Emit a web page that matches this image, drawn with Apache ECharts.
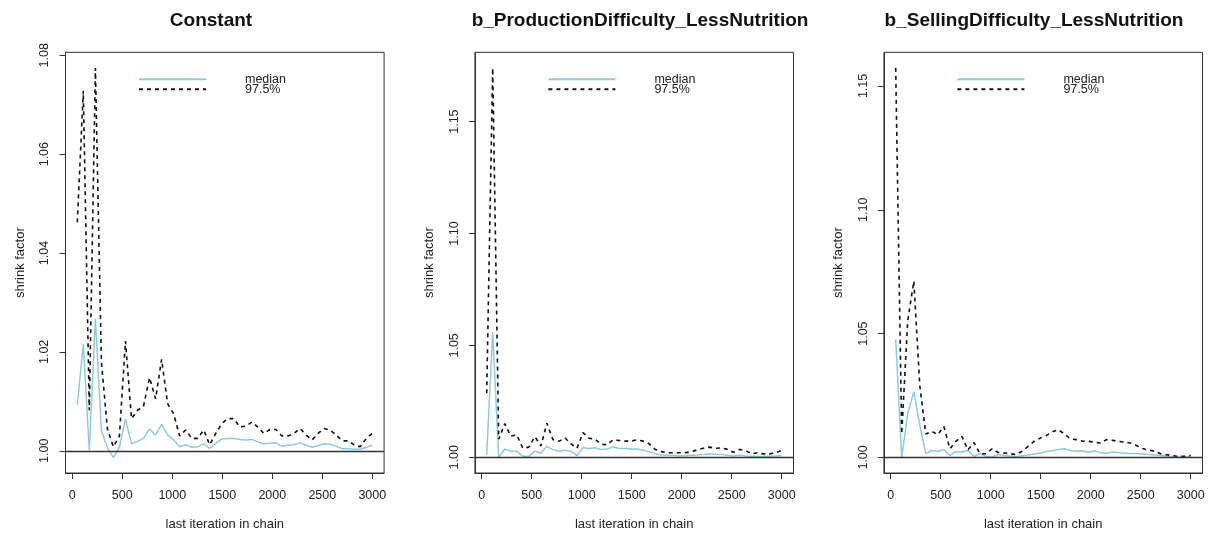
<!DOCTYPE html>
<html><head><meta charset="utf-8">
<script src="https://cdn.jsdelivr.net/npm/echarts@6/dist/echarts.min.js"></script>
<style>html,body{margin:0;padding:0;background:#fff}#c{width:1211px;height:536px}</style>
</head><body><div id="c"></div>
<script>
// ---- data ----
const iterations = [50,110,170,231,291,351,411,471,532,592,652,712,772,833,893,953,1013,1073,1134,1194,1254,1314,1374,1435,1495,1555,1615,1675,1736,1796,1856,1916,1976,2037,2097,2157,2217,2277,2338,2398,2458,2518,2578,2639,2699,2759,2819,2879,2940,3000];

const panelTitles = ['Constant', 'b_ProductionDifficulty_LessNutrition', 'b_SellingDifficulty_LessNutrition'];
const seriesNames = ['median', '97.5%'];

const constantMedian = [1.0093,1.0216,1.0000,1.0267,1.0041,1.0006,0.9986,1.0007,1.0064,1.0014,
  1.0019,1.0025,1.0044,1.0032,1.0054,1.0032,1.0022,1.0008,1.0012,1.0007,
  1.0008,1.0014,1.0005,1.0015,1.0024,1.0025,1.0025,1.0023,1.0022,1.0023,
  1.0018,1.0014,1.0015,1.0016,1.0009,1.0011,1.0012,1.0016,1.0011,1.0007,
  1.0010,1.0014,1.0013,1.0009,1.0004,1.0004,1.0003,1.0003,1.0007,1.0011];
const constantUpper = [1.0462,1.0728,1.0082,1.0774,1.0180,1.0044,1.0008,1.0030,1.0222,1.0065,
  1.0082,1.0090,1.0148,1.0105,1.0185,1.0095,1.0075,1.0030,1.0042,1.0025,
  1.0025,1.0042,1.0012,1.0035,1.0055,1.0065,1.0065,1.0048,1.0050,1.0058,
  1.0048,1.0035,1.0043,1.0043,1.0030,1.0030,1.0035,1.0045,1.0032,1.0022,
  1.0035,1.0045,1.0042,1.0032,1.0020,1.0020,1.0012,1.0008,1.0025,1.0035];

const productionMedian = [1.0010,1.0560,1.0000,1.0037,1.0027,1.0027,1.0004,1.0004,1.0027,1.0019,
  1.0049,1.0034,1.0027,1.0031,1.0027,1.0007,1.0042,1.0039,1.0042,1.0034,
  1.0037,1.0046,1.0039,1.0039,1.0037,1.0037,1.0031,1.0024,1.0016,1.0010,
  1.0009,1.0009,1.0007,1.0007,1.0009,1.0010,1.0012,1.0015,1.0013,1.0012,
  1.0009,1.0006,1.0009,1.0006,1.0004,1.0004,1.0004,1.0004,1.0006,1.0007];
const productionUpper = [1.0286,1.1740,1.0080,1.0150,1.0094,1.0100,1.0040,1.0045,1.0092,1.0050,
  1.0152,1.0079,1.0071,1.0086,1.0060,1.0040,1.0110,1.0085,1.0080,1.0058,
  1.0055,1.0078,1.0075,1.0072,1.0072,1.0078,1.0072,1.0060,1.0035,1.0025,
  1.0020,1.0020,1.0020,1.0020,1.0025,1.0033,1.0040,1.0045,1.0040,1.0042,
  1.0035,1.0022,1.0035,1.0030,1.0015,1.0020,1.0015,1.0015,1.0020,1.0030];

const sellingMedian = [1.0476,1.0000,1.0176,1.0265,1.0130,1.0015,1.0028,1.0024,1.0032,1.0008,
  1.0024,1.0022,1.0028,1.0005,1.0015,1.0004,1.0001,1.0012,1.0008,1.0006,
  1.0004,1.0007,1.0010,1.0014,1.0018,1.0024,1.0027,1.0032,1.0035,1.0028,
  1.0025,1.0026,1.0021,1.0026,1.0020,1.0017,1.0022,1.0020,1.0018,1.0016,
  1.0016,1.0014,1.0012,1.0010,1.0008,1.0006,1.0003,1.0002,1.0001,1.0004];
const sellingUpper = [1.1573,1.0095,1.0550,1.0712,1.0290,1.0095,1.0105,1.0092,1.0125,1.0035,
  1.0065,1.0085,1.0030,1.0060,1.0015,1.0015,1.0035,1.0020,1.0018,1.0015,
  1.0012,1.0025,1.0045,1.0065,1.0078,1.0088,1.0103,1.0112,1.0095,1.0075,
  1.0072,1.0066,1.0065,1.0062,1.0058,1.0072,1.0069,1.0065,1.0062,1.0058,
  1.0048,1.0036,1.0030,1.0025,1.0015,1.0011,1.0007,1.0004,1.0005,1.0008];

const xTickValues = [0,500,1000,1500,2000,2500,3000];
const yTicksConstant = [1.00,1.02,1.04,1.06,1.08];
const yTicksOther = [1.00,1.05,1.10,1.15];

const xAxisTitle = 'last iteration in chain';
const yAxisTitle = 'shrink factor';

// ---- layout / styling ----
const FONT = 'Liberation Sans, Arial, sans-serif';
const panels = [
  {left: 65.5, titleX: 211, median: constantMedian, upper: constantUpper, ymin: 0.9955, ymax: 1.0806, yTicks: yTicksConstant},
  {left: 474.9, titleX: 640, median: productionMedian, upper: productionUpper, ymin: 0.99295, ymax: 1.18098, yTicks: yTicksOther},
  {left: 883.9, titleX: 1034, median: sellingMedian, upper: sellingUpper, ymin: 0.99371, ymax: 1.16359, yTicks: yTicksOther}
];
const gridW = 318.6, gridTop = 52.3, gridH = 421.2;
const BLUE = '#8ecbe0';

const pair = (vals) => iterations.map((x, i) => [x, vals[i]]);

const option = {
  animation: false,
  backgroundColor: '#fff',
  title: panels.map((p, k) => ({
    text: panelTitles[k], left: p.titleX, top: 6, textAlign: 'center', padding: 0,
    textStyle: {fontFamily: FONT, fontWeight: 'bold', fontSize: 19, color: '#111', lineHeight: 30}
  })),
  grid: panels.map(p => ({
    left: p.left, top: gridTop, width: gridW, height: gridH,
    show: true, borderColor: '#333', borderWidth: 1, backgroundColor: 'transparent'
  })),
  xAxis: panels.map((p, k) => ({
    type: 'value', gridIndex: k, min: -68, max: 3118,
    name: xAxisTitle, nameLocation: 'middle', nameGap: 45,
    nameTextStyle: {fontFamily: FONT, fontSize: 13, color: '#222'},
    axisLine: {show: true, onZero: false, lineStyle: {color: '#333'}},
    axisTick: {show: true, inside: false, length: 6, customValues: xTickValues, lineStyle: {color: '#333'}},
    axisLabel: {customValues: xTickValues, margin: 16, fontFamily: FONT, fontSize: 12.5, color: '#222',
      formatter: v => String(Math.round(v))},
    splitLine: {show: false}
  })),
  yAxis: panels.map((p, k) => ({
    type: 'value', gridIndex: k, min: p.ymin, max: p.ymax,
    name: yAxisTitle, nameLocation: 'middle', nameGap: 39, nameRotate: 90,
    nameTextStyle: {fontFamily: FONT, fontSize: 13, color: '#222'},
    axisLine: {show: true, onZero: false, lineStyle: {color: '#333'}},
    axisTick: {show: true, inside: false, length: 6, customValues: p.yTicks, lineStyle: {color: '#333'}},
    axisLabel: {customValues: p.yTicks, rotate: 90, margin: 14, fontFamily: FONT, fontSize: 12.5, color: '#222',
      formatter: v => Number(v).toFixed(2)},
    splitLine: {show: false}
  })),
  legend: [],
  series: []
};

panels.forEach((p, k) => {
  [0, 1].forEach(j => {
    option.legend.push({
      left: p.left + 72.5, top: 72.7 + 10 * j, itemWidth: 67, itemHeight: 10, selectedMode: false,
      data: [seriesNames[j]], padding: 0,
      itemStyle: {opacity: 0},
      textStyle: {fontFamily: FONT, fontSize: 12.5, color: '#222', padding: [0, 0, 0, 34], lineHeight: 10}
    });
  });
  option.series.push({
    name: seriesNames[0], type: 'line', xAxisIndex: k, yAxisIndex: k,
    data: pair(p.median), symbol: 'none', silent: true,
    lineStyle: {color: BLUE, width: 1.5}, itemStyle: {color: BLUE}, z: 2
  });
  option.series.push({
    name: seriesNames[1], type: 'line', xAxisIndex: k, yAxisIndex: k,
    data: pair(p.upper), symbol: 'none', silent: true,
    lineStyle: {color: '#111', width: 1.6, type: [4, 4]}, itemStyle: {color: '#111'}, z: 3,
    markLine: {silent: true, symbol: ['none', 'none'], label: {show: false},
      lineStyle: {color: '#333', width: 1.3, type: 'solid'}, data: [{yAxis: 1}]}
  });
});

const chart = echarts.init(document.getElementById('c'), null, {renderer: 'canvas'});
chart.setOption(option);
</script>
</body></html>
